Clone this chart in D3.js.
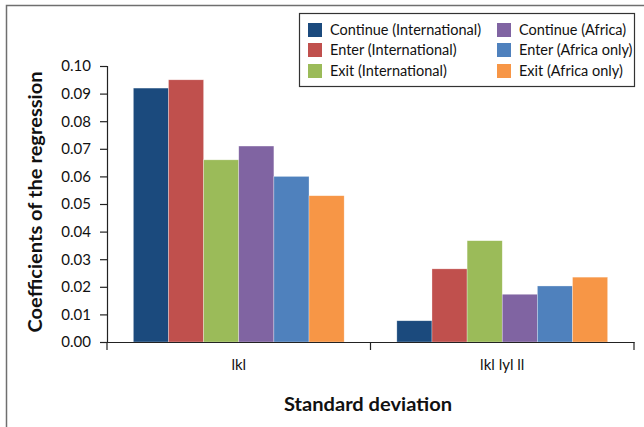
<!DOCTYPE html>
<html><head><meta charset="utf-8">
<script src="https://cdn.jsdelivr.net/npm/d3@7"></script>
<style>body{margin:0;background:#fff;}svg{display:block;font-family:Lato, "Open Sans", sans-serif;}</style>
</head><body>
<svg id="chart" width="644" height="427"></svg>
<script>
const categories = ["lkl", "lkl lyl ll"];
const seriesNames = ["Continue (International)", "Enter (International)", "Exit (International)", "Continue (Africa)", "Enter (Africa only)", "Exit (Africa only)"];
const seriesColors = ["#1B4A7D", "#C0504D", "#9BBB59", "#8064A2", "#4F81BD", "#F79646"];
const continueIntl = [0.092, 0.0077];
const enterIntl = [0.095, 0.0265];
const exitIntl = [0.066, 0.0367];
const continueAfrica = [0.071, 0.0173];
const enterAfrica = [0.060, 0.0203];
const exitAfrica = [0.053, 0.0235];
const yTicks = [0, 0.01, 0.02, 0.03, 0.04, 0.05, 0.06, 0.07, 0.08, 0.09, 0.10];

const seriesValues = [continueIntl, enterIntl, exitIntl, continueAfrica, enterAfrica, exitAfrica];

const svg = d3.select("#chart");
const mLeft = 107, mRight = 634, mTop = 66, mBottom = 342;

// outer border
svg.append("rect").attr("x", 6.5).attr("y", 5.5).attr("width", 700).attr("height", 500)
  .attr("fill", "none").attr("stroke", "#6f6f6f").attr("stroke-width", 1.5);

const x0 = d3.scaleBand().domain(categories).range([mLeft, mRight]).padding(0);
const x1 = d3.scaleBand().domain(seriesNames).range([0, x0.bandwidth()]).paddingInner(0).paddingOuter(0.75);
const y = d3.scaleLinear().domain([0, 0.10]).range([mBottom, mTop]);

// bars
categories.forEach((c, ci) => {
  const g = svg.append("g").attr("transform", `translate(${x0(c)},0)`);
  seriesNames.forEach((s, si) => {
    const v = seriesValues[si][ci];
    g.append("rect")
      .attr("x", x1(s)).attr("width", x1.bandwidth())
      .attr("y", y(v)).attr("height", y(0) - y(v))
      .attr("fill", seriesColors[si])
      .attr("stroke", "#ffffff").attr("stroke-opacity", 0.5).attr("stroke-width", 0.6);
  });
});

// y axis
const yAxis = svg.append("g").attr("transform", `translate(${mLeft},0)`)
  .call(d3.axisLeft(y).tickValues(yTicks).tickFormat(d3.format(".2f")).tickSize(7).tickPadding(9));
yAxis.select(".domain").attr("stroke", "#222").attr("stroke-width", 1.2);
yAxis.selectAll(".tick line").attr("stroke", "#222").attr("stroke-width", 1.2);
yAxis.selectAll("text").attr("font-size", 15).attr("fill", "#111").attr("font-family", "Lato");

// x axis
const xAxis = svg.append("g").attr("transform", `translate(0,${mBottom})`)
  .call(d3.axisBottom(x0).tickSize(0).tickPadding(17));
xAxis.select(".domain").attr("stroke", "#222").attr("stroke-width", 1.2);
xAxis.selectAll("text").attr("font-size", 15).attr("fill", "#111").attr("font-family", "Lato");
const bounds = categories.map(c => x0(c)).concat([x0(categories[categories.length - 1]) + x0.bandwidth()]);
xAxis.selectAll(".bound").data(bounds).enter().append("line")
  .attr("x1", d => d).attr("x2", d => d).attr("y1", 0).attr("y2", 8)
  .attr("stroke", "#222").attr("stroke-width", 1.2);

// axis titles
svg.append("text").attr("x", 368).attr("y", 411).attr("text-anchor", "middle")
  .attr("font-size", 19).attr("font-weight", "bold").attr("fill", "#111")
  .attr("textLength", 168).attr("lengthAdjust", "spacingAndGlyphs").text("Standard deviation");
svg.append("text").attr("transform", `translate(42,202) rotate(-90)`)
  .attr("text-anchor", "middle").attr("font-size", 19).attr("font-weight", "bold").attr("fill", "#111")
  .attr("textLength", 261).attr("lengthAdjust", "spacingAndGlyphs")
  .text("Coefficients of the regression");

// legend
const lg = svg.append("g");
lg.append("rect").attr("x", 299.5).attr("y", 13.5).attr("width", 335).attr("height", 73)
  .attr("fill", "#fff").attr("stroke", "#333").attr("stroke-width", 1.2);
const colX = [308, 497], rowY = [30, 50, 71];
seriesNames.forEach((s, i) => {
  const col = Math.floor(i / 3), row = i % 3;
  lg.append("rect").attr("x", colX[col]).attr("y", rowY[row] - 7).attr("width", 14).attr("height", 14)
    .attr("fill", seriesColors[i]);
  lg.append("text").attr("x", colX[col] + 22).attr("y", rowY[row]).attr("dy", "0.35em")
    .attr("font-size", 14.5).attr("fill", "#111").text(s);
});
</script>
</body></html>
